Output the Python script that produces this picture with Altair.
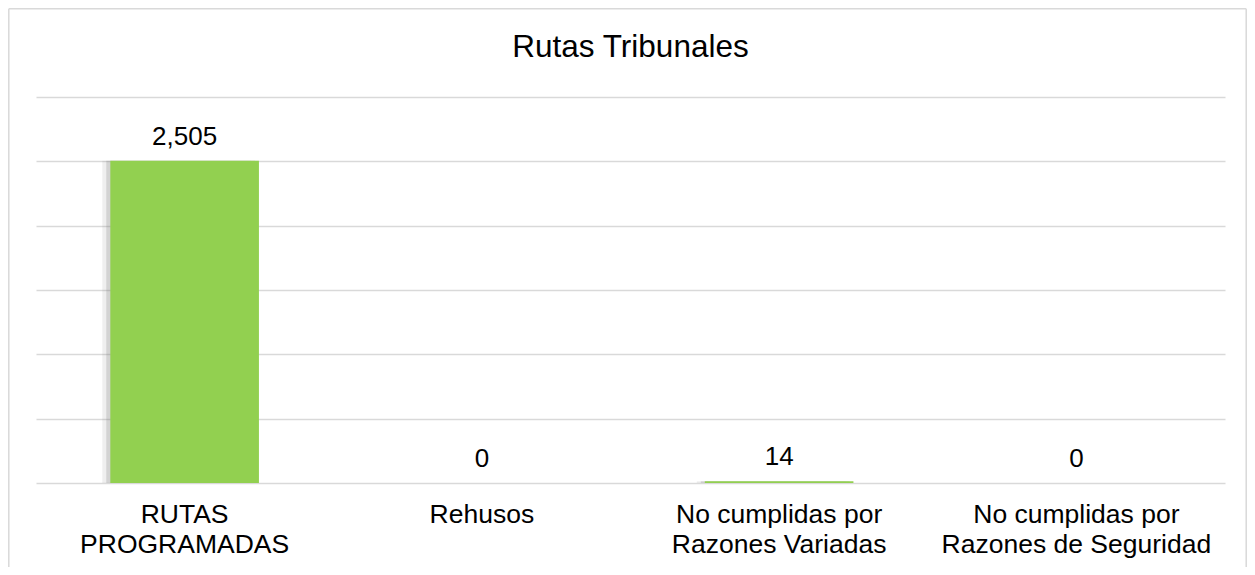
import altair as alt
import pandas as pd

categories = ["RUTAS|PROGRAMADAS", "Rehusos", "No cumplidas por|Razones Variadas",
              "No cumplidas  por|Razones de Seguridad"]
values = [2505, 0, 14, 0]
title_text = "Rutas Tribunales"

df = pd.DataFrame({"cat": categories, "val": values})

FONT = "Liberation Sans"
GRID = "#d9d9d9"

x_enc = alt.X(
    "cat:N", sort=categories, title=None,
    scale=alt.Scale(paddingInner=0.5, paddingOuter=0.25),
    axis=alt.Axis(labelExpr="split(datum.label, '|')", labelAngle=0, tickSize=0,
                  domain=False, labelPadding=18, labelFontSize=26.5, labelLimit=400,
                  labelLineHeight=30, labelFont=FONT, labelColor="#000000",
                  labelBaseline="top"),
)
y_enc = alt.Y(
    "val:Q", title=None,
    scale=alt.Scale(domain=[0, 3000], nice=False),
    axis=alt.Axis(values=[0, 500, 1000, 1500, 2000, 2500, 3000], labels=False,
                  ticks=False, domain=False, grid=True, gridColor=GRID, gridWidth=1.3),
)

base = alt.Chart(df)

shadow1 = base.mark_bar(color="#7f7f7f", opacity=0.12, xOffset=-8).encode(x=x_enc, y=y_enc)
shadow2 = base.mark_bar(color="#7f7f7f", opacity=0.25, xOffset=-4).encode(x=x_enc, y=y_enc)
bars = base.mark_bar(color="#92D050").encode(x=x_enc, y=y_enc)
labels = base.mark_text(fontSize=26, font=FONT, color="#000000", baseline="alphabetic",
                        dy=-16).encode(x=x_enc, y=y_enc, text=alt.Text("val:Q", format=",.0f"))

title = alt.Chart(pd.DataFrame({"t": [title_text]})).mark_text(
    fontSize=31.5, font=FONT, color="#000000", baseline="alphabetic", align="center"
).encode(x=alt.value(594.5), y=alt.value(-40), text="t:N")

edge = pd.DataFrame({"k": [0]})
b_top = alt.Chart(edge).mark_rule(color=GRID, strokeWidth=1.5).encode(
    x=alt.value(-27.2), x2=alt.value(1210.2), y=alt.value(-88.2))
b_left = alt.Chart(edge).mark_rule(color=GRID, strokeWidth=1.5).encode(
    x=alt.value(-27.2), y=alt.value(-88.2), y2=alt.value(520))
b_right = alt.Chart(edge).mark_rule(color=GRID, strokeWidth=1.5).encode(
    x=alt.value(1210.2), y=alt.value(-88.2), y2=alt.value(520))

chart = alt.layer(b_top, b_left, b_right, shadow1, shadow2, bars, labels, title).properties(
    width=1189, height=386,
    autosize=alt.AutoSizeParams(type="none"),
    padding={"left": 28, "top": 89, "right": 22, "bottom": 84},
    background="white",
).configure_view(strokeOpacity=0, stroke="transparent")

chart.save("out.html", embed_options={"renderer": "svg", "actions": False})
